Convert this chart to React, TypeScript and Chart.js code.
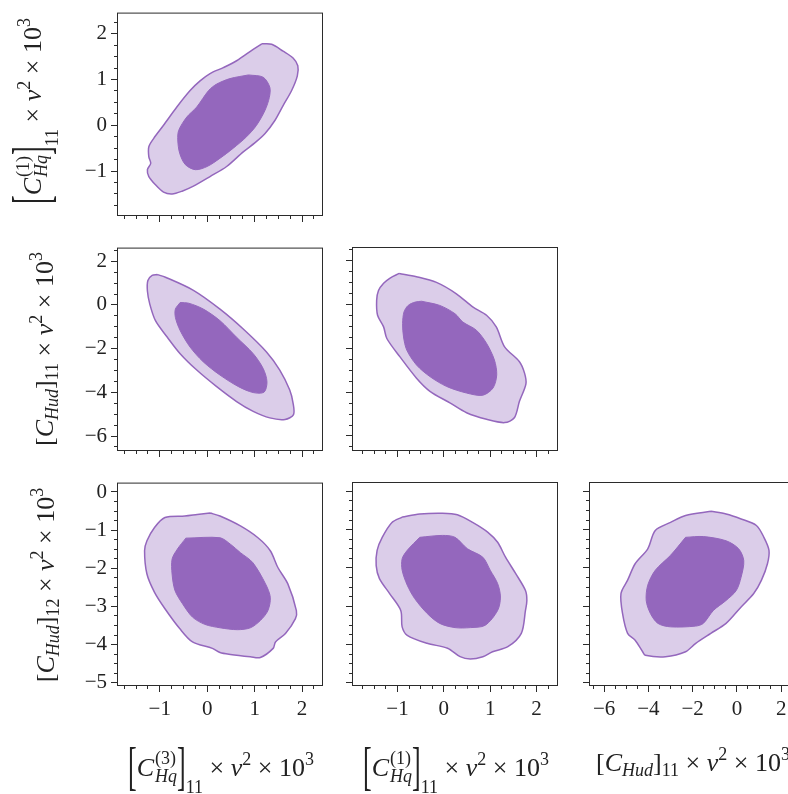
import React, { useEffect, useRef } from 'react';
import { Chart, registerables } from 'chart.js';

Chart.register(...registerables);

type Pt = [number, number];

// ---- axis ranges, major tick values (labels) and minor tick steps ----
const RANGE_HQ3: [number, number] = [-1.88, 2.42];
const RANGE_HQ1: [number, number] = [-1.96, 2.44];
const RANGE_HUD11: [number, number] = [-6.64, 2.58];
const RANGE_HUD12: [number, number] = [-5.06, 0.22];

const TICKS_HQ3 = [-1, 0, 1, 2];
const TICKS_HQ1 = [-1, 0, 1, 2];
const TICKS_HUD11 = [-6, -4, -2, 0, 2];
const TICKS_HUD12 = [-5, -4, -3, -2, -1, 0];

const MINOR_HQ3 = 0.25;
const MINOR_HQ1 = 0.25;
const MINOR_HUD11 = 0.5;
const MINOR_HUD12 = 0.25;

// ---- contour data (outer = 95%, inner = 68%) ----
const HQ3_HQ1_OUTER: Pt[] = [
  [1.15, 1.78], [1.36, 1.77], [1.6, 1.62], [1.81, 1.47], [1.91, 1.3], [1.9, 1.08], [1.78, 0.76],
  [1.6, 0.43], [1.43, 0.11], [1.22, -0.18], [1.01, -0.38], [0.76, -0.58], [0.41, -0.9], [0.06, -1.12],
  [-0.29, -1.33], [-0.53, -1.44], [-0.74, -1.5], [-0.92, -1.46], [-1.09, -1.3], [-1.23, -1.12],
  [-1.26, -0.97], [-1.19, -0.83], [-1.23, -0.69], [-1.23, -0.47], [-1.13, -0.29], [-0.92, 0.0],
  [-0.64, 0.4], [-0.36, 0.76], [-0.15, 0.97], [0.06, 1.13], [0.34, 1.26], [0.62, 1.41], [0.97, 1.66],
];
const HQ3_HQ1_INNER: Pt[] = [
  [0.87, 1.1], [1.18, 1.05], [1.32, 0.83], [1.31, 0.61], [1.22, 0.33], [1.04, 0.0], [0.83, -0.25],
  [0.55, -0.5], [0.27, -0.72], [0.0, -0.9], [-0.25, -0.97], [-0.46, -0.86], [-0.58, -0.61],
  [-0.62, -0.32], [-0.6, -0.11], [-0.43, 0.18], [-0.22, 0.4], [0.03, 0.76], [0.2, 0.9], [0.48, 1.02],
];

const HQ3_HUD11_OUTER: Pt[] = [
  [-1.05, 1.39], [-0.88, 1.27], [-0.29, 0.67], [0.27, -0.19], [0.76, -1.1], [1.25, -2.15],
  [1.53, -2.98], [1.74, -3.89], [1.81, -4.49], [1.82, -5.02], [1.64, -5.24], [1.32, -5.17],
  [0.97, -4.87], [0.62, -4.42], [0.2, -3.74], [-0.22, -2.98], [-0.57, -2.23], [-0.84, -1.48],
  [-1.09, -0.72], [-1.21, 0.04], [-1.26, 0.64], [-1.25, 1.12], [-1.16, 1.35],
];
const HQ3_HUD11_INNER: Pt[] = [
  [-0.57, 0.11], [-0.39, 0.08], [-0.08, -0.19], [0.27, -0.72], [0.62, -1.48], [0.97, -2.23],
  [1.18, -2.91], [1.26, -3.51], [1.2, -3.99], [0.97, -4.01], [0.66, -3.74], [0.27, -3.21],
  [-0.08, -2.61], [-0.36, -1.93], [-0.57, -1.17], [-0.67, -0.57], [-0.67, -0.19],
];

const HQ1_HUD11_OUTER: Pt[] = [
  [-0.96, 1.42], [-0.59, 1.27], [-0.16, 1.01], [0.27, 0.49], [0.63, -0.12], [0.92, -0.49],
  [1.13, -1.02], [1.31, -1.93], [1.63, -2.61], [1.74, -3.13], [1.77, -3.62], [1.63, -4.42],
  [1.52, -5.17], [1.31, -5.39], [0.92, -5.24], [0.49, -4.94], [0.13, -4.49], [-0.3, -3.96],
  [-0.59, -3.36], [-0.95, -2.38], [-1.23, -1.55], [-1.3, -1.02], [-1.43, -0.49], [-1.45, 0.19],
  [-1.41, 0.64], [-1.3, 0.97], [-1.16, 1.21],
];
const HQ1_HUD11_INNER: Pt[] = [
  [-0.48, 0.15], [-0.09, -0.04], [0.24, -0.42], [0.41, -0.8], [0.7, -1.17], [0.92, -1.77],
  [1.09, -2.53], [1.14, -3.21], [1.06, -3.81], [0.84, -4.14], [0.49, -4.04], [0.06, -3.74],
  [-0.3, -3.29], [-0.59, -2.76], [-0.8, -2.08], [-0.87, -1.48], [-0.89, -0.87], [-0.86, -0.34],
  [-0.77, -0.04], [-0.62, 0.11],
];

const HQ3_HUD12_OUTER: Pt[] = [
  [0.06, -0.55], [0.27, -0.63], [0.7, -0.89], [1.07, -1.2], [1.33, -1.54], [1.49, -1.98],
  [1.7, -2.41], [1.88, -3.11], [1.86, -3.32], [1.65, -3.71], [1.44, -3.93], [1.39, -4.1],
  [1.12, -4.34], [0.91, -4.32], [0.49, -4.26], [0.27, -4.21], [0.11, -4.1], [-0.31, -3.93],
  [-0.58, -3.58], [-0.89, -3.06], [-1.11, -2.63], [-1.27, -2.15], [-1.32, -1.54], [-1.27, -1.28],
  [-1.11, -0.93], [-0.89, -0.67], [-0.47, -0.63], [-0.21, -0.59],
];
const HQ3_HUD12_INNER: Pt[] = [
  [-0.45, -1.21], [0.27, -1.2], [0.49, -1.37], [0.7, -1.59], [0.96, -1.85], [1.23, -2.41],
  [1.33, -2.76], [1.28, -3.11], [1.12, -3.37], [0.91, -3.56], [0.64, -3.61], [0.27, -3.56],
  [-0.05, -3.47], [-0.31, -3.28], [-0.52, -2.93], [-0.68, -2.58], [-0.74, -2.15], [-0.74, -1.76],
  [-0.63, -1.5],
];

const HQ1_HUD12_OUTER: Pt[] = [
  [-0.9, -0.67], [-0.52, -0.59], [-0.03, -0.57], [0.29, -0.61], [0.62, -0.81], [0.95, -1.07],
  [1.16, -1.33], [1.33, -1.72], [1.55, -2.15], [1.76, -2.59], [1.79, -2.85], [1.76, -3.11],
  [1.67, -3.71], [1.38, -4.06], [1.05, -4.19], [0.84, -4.32], [0.57, -4.38], [0.35, -4.32],
  [0.08, -4.1], [-0.36, -3.97], [-0.79, -3.76], [-0.9, -3.54], [-0.93, -3.11], [-1.17, -2.67],
  [-1.39, -2.28], [-1.46, -1.94], [-1.44, -1.54], [-1.33, -1.2], [-1.12, -0.81],
];
const HQ1_HUD12_INNER: Pt[] = [
  [-0.52, -1.2], [-0.03, -1.15], [0.24, -1.2], [0.51, -1.5], [0.84, -1.72], [1.0, -2.06],
  [1.16, -2.41], [1.22, -2.76], [1.16, -3.11], [0.89, -3.5], [0.57, -3.56], [0.24, -3.56],
  [-0.09, -3.45], [-0.36, -3.19], [-0.63, -2.8], [-0.79, -2.45], [-0.9, -2.06], [-0.9, -1.76],
  [-0.79, -1.54],
];

const HUD11_HUD12_OUTER: Pt[] = [
  [-1.18, -0.52], [-0.49, -0.59], [0.19, -0.72], [0.88, -0.89], [1.22, -1.2], [1.45, -1.54],
  [1.38, -1.89], [1.11, -2.32], [0.76, -2.67], [0.19, -3.02], [-0.49, -3.45], [-1.18, -3.71],
  [-1.86, -3.97], [-2.32, -4.19], [-3.23, -4.32], [-4.14, -4.28], [-4.26, -4.19], [-4.6, -3.89],
  [-4.94, -3.71], [-5.17, -3.19], [-5.24, -2.67], [-4.94, -2.32], [-4.6, -1.89], [-4.03, -1.5],
  [-3.69, -1.02], [-3.0, -0.81], [-2.32, -0.63],
];
const HUD11_HUD12_INNER: Pt[] = [
  [-2.32, -1.2], [-1.52, -1.18], [-0.49, -1.29], [0.08, -1.5], [0.31, -1.81], [0.19, -2.24],
  [-0.03, -2.59], [-0.49, -2.85], [-1.06, -3.11], [-1.52, -3.45], [-1.86, -3.52], [-3.0, -3.54],
  [-3.57, -3.45], [-3.91, -3.19], [-4.1, -2.85], [-4.03, -2.45], [-3.69, -2.06], [-3.0, -1.67],
];

// ---- styling ----
const SERIF = "'Liberation Serif', 'DejaVu Serif', serif";
const INNER_FILL = '#9467bd';
const OUTER_FILL = '#dbcde9';
const OUTLINE = '#9467bd';
const FRAME = '#2b2b2b';
const TEXT = '#222222';

// ---- layout ----
const COL_LEFT = [118, 353, 590];
const ROW_TOP = [13, 248, 483];
const PW = 204;
const PH = 202;
const PAD_L = 60;
const PAD_T = 16;
const PAD_R = 16;
const PAD_B = 50;

interface AxisDef { range: [number, number]; major: number[]; minor: number; }
const AX_HQ3: AxisDef = { range: RANGE_HQ3, major: TICKS_HQ3, minor: MINOR_HQ3 };
const AX_HQ1: AxisDef = { range: RANGE_HQ1, major: TICKS_HQ1, minor: MINOR_HQ1 };
const AX_HUD11: AxisDef = { range: RANGE_HUD11, major: TICKS_HUD11, minor: MINOR_HUD11 };
const AX_HUD12: AxisDef = { range: RANGE_HUD12, major: TICKS_HUD12, minor: MINOR_HUD12 };

interface PanelDef { row: number; col: number; x: AxisDef; y: AxisDef; outer: Pt[]; inner: Pt[]; }
const PANELS: PanelDef[] = [
  { row: 0, col: 0, x: AX_HQ3, y: AX_HQ1, outer: HQ3_HQ1_OUTER, inner: HQ3_HQ1_INNER },
  { row: 1, col: 0, x: AX_HQ3, y: AX_HUD11, outer: HQ3_HUD11_OUTER, inner: HQ3_HUD11_INNER },
  { row: 1, col: 1, x: AX_HQ1, y: AX_HUD11, outer: HQ1_HUD11_OUTER, inner: HQ1_HUD11_INNER },
  { row: 2, col: 0, x: AX_HQ3, y: AX_HUD12, outer: HQ3_HUD12_OUTER, inner: HQ3_HUD12_INNER },
  { row: 2, col: 1, x: AX_HQ1, y: AX_HUD12, outer: HQ1_HUD12_OUTER, inner: HQ1_HUD12_INNER },
  { row: 2, col: 2, x: AX_HUD11, y: AX_HUD12, outer: HUD11_HUD12_OUTER, inner: HUD11_HUD12_INNER },
];

function tickValues(range: [number, number], step: number): number[] {
  const out: number[] = [];
  const start = Math.ceil(range[0] / step - 1e-9);
  const end = Math.floor(range[1] / step + 1e-9);
  for (let i = start; i <= end; i++) out.push(Math.round(i * step * 1000) / 1000);
  return out;
}
const isMajor = (ax: AxisDef, v: number) => ax.major.some((m) => Math.abs(m - v) < 1e-6);
const fmt = (v: number) => (v < 0 ? '\u2212' + Math.abs(v) : String(v));

function scaleOptions(ax: AxisDef, position: 'left' | 'bottom', showLabels: boolean): any {
  return {
    type: 'linear',
    position,
    min: ax.range[0],
    max: ax.range[1],
    afterBuildTicks: (s: any) => {
      s.ticks = tickValues(ax.range, ax.minor).map((value) => ({ value }));
    },
    afterFit: (s: any) => {
      if (position === 'left') s.width = PAD_L;
      else s.height = PAD_B;
    },
    border: { display: false },
    grid: {
      display: true,
      drawOnChartArea: false,
      drawTicks: true,
      tickLength: 7,
      tickColor: FRAME,
      tickWidth: 1,
      tickBorderDash: (c: any) => {
        const v = c.tick ? c.tick.value : 0;
        if (isMajor(ax, v)) return [];
        return position === 'left' ? [0, 3, 4, 100] : [4, 100];
      },
    },
    ticks: {
      display: showLabels,
      autoSkip: false,
      maxRotation: 0,
      minRotation: 0,
      padding: position === 'left' ? 4 : 5,
      color: TEXT,
      font: { family: SERIF, size: 21 },
      callback: (v: number) => (isMajor(ax, v) ? fmt(v) : ''),
    },
  };
}

const framePlugin = {
  id: 'frame',
  afterDraw(chart: any) {
    const { ctx, chartArea: a } = chart;
    ctx.save();
    ctx.strokeStyle = FRAME;
    ctx.lineWidth = 1;
    ctx.strokeRect(a.left - 0.5, a.top - 0.5, a.right - a.left + 1, a.bottom - a.top + 1);
    ctx.restore();
  },
};

const closed = (pts: Pt[]) => [...pts, pts[0]].map(([x, y]) => ({ x, y }));

function Panel({ p }: { p: PanelDef }) {
  const ref = useRef<HTMLCanvasElement>(null);
  useEffect(() => {
    const canvas = ref.current;
    if (!canvas) return;
    const chart = new Chart(canvas, {
      type: 'scatter',
      data: {
        datasets: [
          {
            data: closed(p.inner),
            showLine: true,
            fill: 'shape',
            backgroundColor: INNER_FILL,
            borderColor: INNER_FILL,
            borderWidth: 1,
            pointRadius: 0,
            pointHoverRadius: 0,
            tension: 0.3,
          } as any,
          {
            data: closed(p.outer),
            showLine: true,
            fill: 'shape',
            backgroundColor: OUTER_FILL,
            borderColor: OUTLINE,
            borderWidth: 1.5,
            pointRadius: 0,
            pointHoverRadius: 0,
            tension: 0.3,
          } as any,
        ],
      },
      options: {
        animation: false,
        responsive: false,
        devicePixelRatio: 1,
        events: [],
        layout: { padding: { left: 0, top: PAD_T, right: PAD_R, bottom: 0 } },
        plugins: { legend: { display: false }, tooltip: { enabled: false } },
        scales: {
          x: scaleOptions(p.x, 'bottom', p.row === 2),
          y: scaleOptions(p.y, 'left', p.col === 0),
        },
      } as any,
      plugins: [framePlugin],
    });
    return () => chart.destroy();
  }, [p]);
  const w = PW + PAD_L + PAD_R;
  const h = PH + PAD_T + PAD_B;
  return (
    <canvas
      ref={ref}
      width={w}
      height={h}
      style={{ position: 'absolute', left: COL_LEFT[p.col] - PAD_L, top: ROW_TOP[p.row] - PAD_T, width: w, height: h }}
    />
  );
}

// ---- axis titles as real text ----
const LABEL: React.CSSProperties = {
  fontFamily: SERIF, fontSize: 26, lineHeight: '26px', color: TEXT, whiteSpace: 'nowrap',
};
const SMALL: React.CSSProperties = { fontSize: 18, lineHeight: '18px' };
const SUP: React.CSSProperties = { ...SMALL, verticalAlign: '11px' };
const BIG_BRACKET: React.CSSProperties = {
  display: 'inline-block', transform: 'scaleY(2.0)', transformOrigin: '50% 50%', fontWeight: 300,
};

function Tail() {
  return (
    <>
      <span>{' \u00d7 '}</span>
      <i>v</i>
      <span style={SUP}>2</span>
      <span>{' \u00d7 10'}</span>
      <span style={SUP}>3</span>
    </>
  );
}

function HqLabel({ sup }: { sup: string }) {
  return (
    <>
      <span style={BIG_BRACKET}>[</span>
      <i>C</i>
      <span style={{ ...SMALL, display: 'inline-block', verticalAlign: '-6px', textAlign: 'left', marginLeft: 1 }}>
        <span style={{ display: 'block' }}>{sup}</span>
        <i style={{ display: 'block' }}>Hq</i>
      </span>
      <span style={BIG_BRACKET}>]</span>
      <span style={{ ...SMALL, verticalAlign: '-17px' }}>11</span>
      <Tail />
    </>
  );
}

function HudLabel({ sub }: { sub: string }) {
  return (
    <>
      <span>[</span>
      <i>C</i>
      <i style={{ ...SMALL, verticalAlign: '-5px' }}>Hud</i>
      <span>]</span>
      <span style={{ ...SMALL, verticalAlign: '-5px' }}>{sub}</span>
      <Tail />
    </>
  );
}

function YTitle({ cx, cy, children }: { cx: number; cy: number; children: React.ReactNode }) {
  return (
    <div style={{ ...LABEL, position: 'absolute', left: cx, top: cy, transform: 'translate(-50%, -50%) rotate(-90deg)' }}>
      {children}
    </div>
  );
}

function XTitle({ cx, top, children }: { cx: number; top: number; children: React.ReactNode }) {
  return (
    <div style={{ ...LABEL, position: 'absolute', left: cx, top, transform: 'translateX(-50%)' }}>
      {children}
    </div>
  );
}

export default function App() {
  return (
    <div style={{ position: 'absolute', left: 0, top: 0, width: 788, height: 794, overflow: 'hidden', background: '#ffffff' }}>
      {PANELS.map((p) => (
        <Panel key={`${p.row}-${p.col}`} p={p} />
      ))}
      <YTitle cx={37} cy={111}><HqLabel sup="(1)" /></YTitle>
      <YTitle cx={44} cy={349}><HudLabel sub="11" /></YTitle>
      <YTitle cx={45} cy={585}><HudLabel sub="12" /></YTitle>
      <XTitle cx={221} top={749}><HqLabel sup="(3)" /></XTitle>
      <XTitle cx={456} top={749}><HqLabel sup="(1)" /></XTitle>
      <XTitle cx={693} top={745}><HudLabel sub="11" /></XTitle>
    </div>
  );
}
